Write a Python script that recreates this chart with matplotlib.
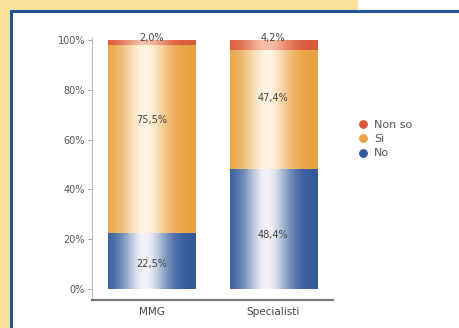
import matplotlib.pyplot as plt
import numpy as np
from matplotlib.patches import Rectangle
from matplotlib.lines import Line2D

categories = ['MMG', 'Specialisti']
series = ['No', 'Sì', 'Non so']
no_vals = [22.5, 48.4]
si_vals = [75.5, 47.4]
nonso_vals = [2.0, 4.2]
yticks = [0, 20, 40, 60, 80, 100]

edge_cols = {'No': '#30589a', 'Sì': '#e9a141', 'Non so': '#d9583a'}
light_cols = {'No': '#f2f3f8', 'Sì': '#fff4e2', 'Non so': '#f6c0a6'}
legend_order = ['Non so', 'Sì', 'No']
legend_labels = {'Non so': 'Non so', 'Sì': 'Sì', 'No': 'No'}

W, H = 459, 328
fig = plt.figure(figsize=(W / 100, H / 100), dpi=100)
fig.patch.set_facecolor('white')

# frame: yellow strip on top/left with blue border line
def px(x, y, w, h):
    return (x / W, 1 - (y + h) / H, w / W, h / H)

for (x, y, w, h), c in [((0, 0, 358, 11), '#fbe19a'),
                        ((0, 0, 10, H), '#fbe19a'),
                        ((10, 10, W - 10, 2.5), '#1f5590'),
                        ((10, 10, 2.5, H - 10), '#1f5590')]:
    x0, y0, ww, hh = px(x, y, w, h)
    fig.add_artist(Rectangle((x0, y0), ww, hh, transform=fig.transFigure,
                             facecolor=c, edgecolor='none', zorder=0))

ax = fig.add_axes([92 / W, 1 - 300 / H, 241 / W, 262.5 / H])
ax.set_facecolor('none')
ax.set_xlim(-0.49, 1.49)
ax.set_ylim(-4.4, 101)

x = np.arange(len(categories))
width = 0.716


def gradient(edge, light, n=200):
    # shiny cylinder look: bright band left of centre, darker towards the right
    t = np.linspace(0, 1, n)
    w = np.exp(-((t - 0.42) / 0.26) ** 2)
    e = np.array(plt.matplotlib.colors.to_rgb(edge))
    l = np.array(plt.matplotlib.colors.to_rgb(light))
    img = e[None, :] * (1 - w[:, None]) + l[None, :] * w[:, None]
    return img[None, :, :]


bottom = np.zeros(len(categories))
for name, vals in zip(series, [no_vals, si_vals, nonso_vals]):
    bars = ax.bar(x, vals, width, bottom=bottom, color='none', edgecolor='none')
    img = gradient(edge_cols[name], light_cols[name])
    for b in bars:
        x0, y0 = b.get_x(), b.get_y()
        im = ax.imshow(img, extent=(x0, x0 + b.get_width(), y0, y0 + b.get_height()),
                       aspect='auto', interpolation='bilinear', zorder=2)
        im.set_clip_path(b)
    # value labels
    for i, v in enumerate(vals):
        if name == 'Non so':
            ly = 100.8
        elif name == 'Sì':
            ly = bottom[i] + v * 0.6
        else:
            ly = bottom[i] + v * 0.45
        ax.text(x[i], ly, f'{v:.1f}%'.replace('.', ','), ha='center', va='center',
                fontsize=7, color='#444444', zorder=3)
    bottom += np.array(vals)

ax.set_aspect('auto')
ax.set_xticks(x)
ax.set_xticklabels(categories, fontsize=7.5, color='#444444')
ax.set_yticks(yticks)
ax.set_yticklabels([f'{t}%' for t in yticks], fontsize=7, color='#555555')
ax.tick_params(axis='x', length=0, pad=5)
ax.tick_params(axis='y', length=3, width=0.6, color='#999999', pad=2)
for s in ['top', 'right']:
    ax.spines[s].set_visible(False)
ax.spines['left'].set_color('#bbbbbb')
ax.spines['left'].set_linewidth(0.8)
ax.spines['bottom'].set_color('#777777')
ax.spines['bottom'].set_linewidth(1.6)

handles = [Line2D([], [], marker='o', linestyle='none', markersize=5.5,
                  markerfacecolor=edge_cols[n], markeredgecolor=edge_cols[n],
                  markeredgewidth=0.8) for n in legend_order]
leg = fig.legend(handles, [legend_labels[n] for n in legend_order],
                 loc='upper left', bbox_to_anchor=(353 / W, 1 - 114 / H),
                 frameon=False, fontsize=8, handlelength=0.8, handletextpad=0.6,
                 labelspacing=0.4, borderpad=0)
for t in leg.get_texts():
    t.set_color('#555555')

fig.savefig('out.png', dpi=100)
